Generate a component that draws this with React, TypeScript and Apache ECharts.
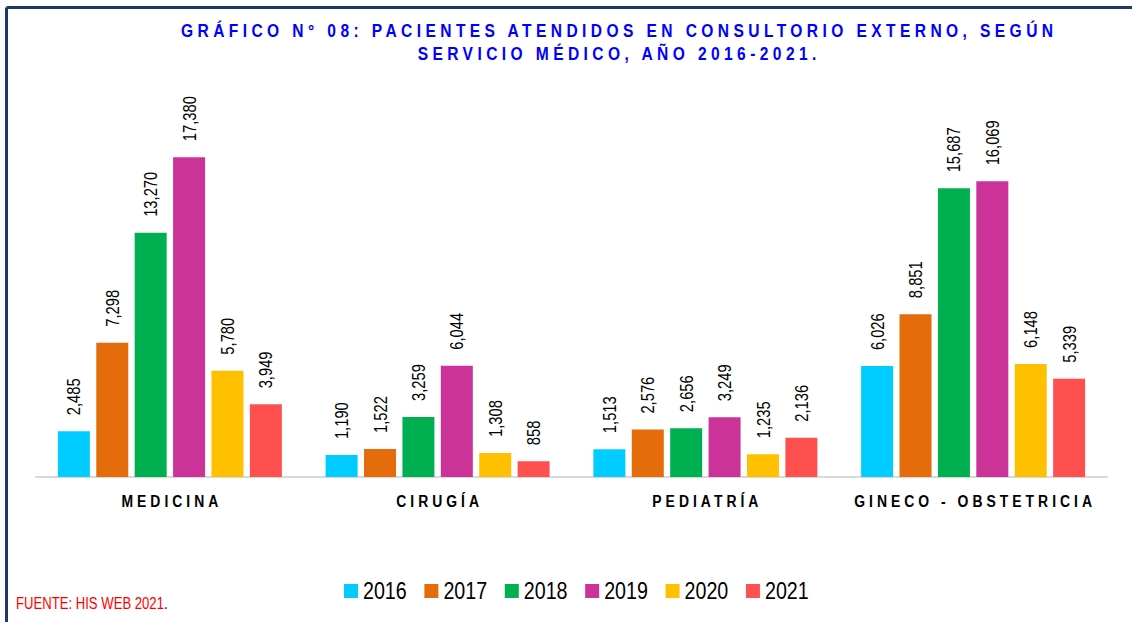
import React, { useEffect, useRef } from "react";
import * as echarts from "echarts";

const categories = ["MEDICINA", "CIRUGÍA", "PEDIATRÍA", "GINECO - OBSTETRICIA"];
const years = ["2016", "2017", "2018", "2019", "2020", "2021"];
const values2016 = [2485, 1190, 1513, 6026];
const values2017 = [7298, 1522, 2576, 8851];
const values2018 = [13270, 3259, 2656, 15687];
const values2019 = [17380, 6044, 3249, 16069];
const values2020 = [5780, 1308, 1235, 6148];
const values2021 = [3949, 858, 2136, 5339];
const seriesValues = [values2016, values2017, values2018, values2019, values2020, values2021];
const colors = ["#00CCFF", "#E46C0A", "#00B050", "#CC3399", "#FFC000", "#FF5050"];
const titleLines = [
  "GRÁFICO N° 08: PACIENTES ATENDIDOS EN CONSULTORIO EXTERNO, SEGÚN",
  "SERVICIO MÉDICO, AÑO 2016-2021.",
];
const sourceText = "FUENTE: HIS WEB 2021";

const FONT = "'Liberation Sans', Arial, sans-serif";
// Arial Narrow is emulated by horizontally condensing Liberation Sans glyphs
const NARROW_RATIO = 0.82;

export default function App() {
  const ref = useRef<HTMLDivElement>(null);
  useEffect(() => {
    document.body.style.margin = "0";
    const el = ref.current!;
    const chart = echarts.init(el, undefined, { renderer: "svg" });
    const option: any = {
      animation: false,
      backgroundColor: "#ffffff",
      title: {
        text: titleLines.join("\n"),
        left: 617,
        top: 19,
        padding: 0,
        textAlign: "center",
        textStyle: { color: "#0000FF", fontSize: 19, fontWeight: "bold", fontFamily: FONT, lineHeight: 23 },
      },
      legend: {
        data: years,
        left: 344,
        top: 579,
        padding: 0,
        itemWidth: 14,
        itemHeight: 14,
        itemGap: 8,
        icon: "rect",
        textStyle: { fontSize: 24, color: "#000", fontFamily: FONT },
      },
      grid: { left: 36, right: 25, top: 109, bottom: 145 },
      xAxis: {
        type: "category",
        data: categories,
        axisLine: { lineStyle: { color: "#D9D9D9", width: 2 } },
        axisTick: { show: false },
        axisLabel: { margin: 15, fontSize: 17, fontWeight: "bold", color: "#000", fontFamily: FONT },
      },
      yAxis: { type: "value", min: 0, max: 20000, show: false },
      series: years.map((y, i) => ({
        name: y,
        type: "bar",
        data: seriesValues[i],
        barWidth: 32,
        barGap: "20%",
        itemStyle: { color: colors[i] },
        label: {
          show: true,
          position: "top",
          rotate: 90,
          align: "left",
          verticalAlign: "middle",
          distance: 16,
          fontSize: 18,
          color: "#000",
          fontFamily: FONT,
          formatter: (p: any) => Number(p.value).toLocaleString("en-US"),
        },
      })),
      graphic: [
        { type: "line", shape: { x1: 6.5, y1: 7.5, x2: 1132, y2: 7.5 }, style: { stroke: "#1F3864", lineWidth: 3 } },
        { type: "line", shape: { x1: 6.5, y1: 7.5, x2: 6.5, y2: 622 }, style: { stroke: "#1F3864", lineWidth: 3 } },
        {
          type: "text",
          x: 16,
          y: 604,
          style: {
            text: "{r|" + sourceText + "}{k|.}",
            verticalAlign: "middle",
            fontSize: 16,
            fontFamily: FONT,
            rich: {
              r: { fill: "#FF0000", fontSize: 16, fontFamily: FONT },
              k: { fill: "#000000", fontSize: 16, fontFamily: FONT },
            },
          },
        },
      ],
    };
    chart.setOption(option);

    const condense = (t: SVGTextElement, k: number, s: number, anchorX?: number) => {
      const cur = t.getAttribute("transform") || "";
      if (t.getAttribute("data-cond") === "1" && cur.indexOf("scale(" + k) >= 0) return;
      const str = t.textContent || "";
      if (!str) return;
      const n = Array.from(str).length;
      t.removeAttribute("textLength");
      t.removeAttribute("lengthAdjust");
      const w0 = t.getComputedTextLength();
      if (!w0) return;
      const ax = anchorX !== undefined ? anchorX : parseFloat(t.getAttribute("x") || "0") || 0;
      t.setAttribute(
        "transform",
        (cur ? cur + " " : "") + `translate(${ax} 0) scale(${k} 1) translate(${-ax} 0)`
      );
      if (s > 0 && n > 1) {
        t.setAttribute("textLength", ((k * w0 + (n - 1) * s) / k).toFixed(2));
        t.setAttribute("lengthAdjust", "spacing");
      }
      t.setAttribute("data-cond", "1");
    };
    const apply = () => {
      el.querySelectorAll("text").forEach((node) => {
        const t = node as SVGTextElement;
        const s = t.textContent || "";
        if (titleLines.includes(s)) condense(t, NARROW_RATIO, 4.4);
        else if (categories.includes(s)) condense(t, NARROW_RATIO, 4.0);
        else if (s === "." || s === sourceText) condense(t, NARROW_RATIO, 0, 0);
        else condense(t, NARROW_RATIO, 0);
      });
    };
    apply();
    chart.on("finished", apply);
    const tm = setTimeout(apply, 50);
    return () => {
      clearTimeout(tm);
      chart.dispose();
    };
  }, []);
  return <div ref={ref} style={{ width: 1132, height: 622 }} />;
}
